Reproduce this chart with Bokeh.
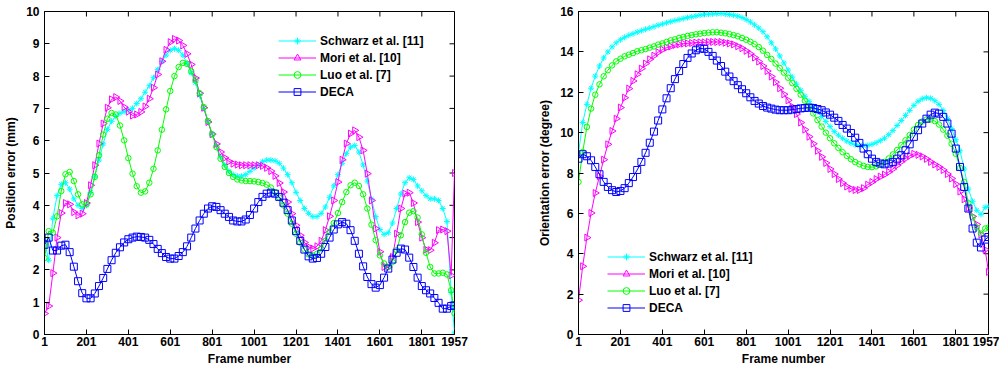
import math
from bokeh.plotting import figure
from bokeh.layouts import row
from bokeh.models import FixedTicker, Range1d, Legend, LegendItem
from bokeh.embed import file_html
from bokeh.resources import INLINE

# sampled frame numbers (one marker every 20 frames, last frame 1957)
frames = list(range(1, 1942, 20)) + [1957]
x_ticks = [1, 201, 401, 601, 801, 1001, 1201, 1401, 1601, 1801, 1957]
pos_ticks = [0, 1, 2, 3, 4, 5, 6, 7, 8, 9, 10]
ori_ticks = [0, 2, 4, 6, 8, 10, 12, 14, 16]
labels = ["Schwarz et al. [11]", "Mori et al. [10]", "Luo et al. [7]", "DECA"]

# ---------------- Position error (mm) ----------------
pos_schwarz = [
    2.9, 2.3, 3.6, 4.3, 4.65, 4.7, 4.5, 4.2, 4.0, 3.9,
    4.0, 4.4, 4.9, 5.4, 5.9, 6.35, 6.6, 6.75, 6.85, 6.9,
    6.95, 7.0, 7.15, 7.3, 7.5, 7.7, 7.95, 8.2, 8.45, 8.65,
    8.8, 8.85, 8.8, 8.65, 8.4, 8.1, 7.8, 7.4, 7.0, 6.58,
    6.2, 5.85, 5.5, 5.25, 5.05, 4.95, 4.9, 4.9, 4.95, 5.05,
    5.15, 5.25, 5.35, 5.4, 5.4, 5.38, 5.3, 5.15, 4.95, 4.7,
    4.4, 4.15, 3.9, 3.75, 3.65, 3.65, 3.75, 3.95, 4.25, 4.6,
    4.95, 5.3, 5.6, 5.8, 5.85, 5.65, 5.25, 4.75, 4.2, 3.65,
    3.25, 3.1, 3.15, 3.45, 3.9, 4.35, 4.7, 4.85, 4.8, 4.6,
    4.45, 4.3, 4.2, 4.2, 4.15, 3.9, 3.5, 1.3, 0.05]
pos_mori = [
    0.65, 0.88, 1.9, 3.0, 3.76, 4.07, 4.03, 3.79, 3.69, 3.74,
    4.07, 4.62, 5.24, 5.91, 6.53, 7.02, 7.28, 7.35, 7.23, 7.04,
    6.9, 6.78, 6.81, 6.89, 7.06, 7.3, 7.64, 8.05, 8.46, 8.81,
    9.05, 9.15, 9.1, 8.95, 8.69, 8.36, 7.94, 7.47, 7.02, 6.58,
    6.2, 5.9, 5.65, 5.47, 5.36, 5.29, 5.26, 5.24, 5.24, 5.24,
    5.24, 5.24, 5.22, 5.16, 5.06, 4.91, 4.69, 4.41, 4.1, 3.74,
    3.38, 3.07, 2.85, 2.71, 2.66, 2.73, 2.9, 3.23, 3.66, 4.15,
    4.72, 5.41, 5.91, 6.22, 6.32, 6.11, 5.7, 4.98, 4.15, 3.28,
    2.56, 2.09, 2.09, 2.4, 3.12, 3.9, 4.36, 4.39, 4.07, 3.48,
    3.0, 2.63, 2.61, 2.84, 3.23, 3.25, 3.2, 1.83, 5.0]
pos_luo = [
    2.37, 3.2, 3.15, 3.66, 4.44, 4.96, 5.03, 4.75, 4.34, 4.03,
    4.03, 4.34, 4.88, 5.55, 6.19, 6.68, 6.86, 6.81, 6.47, 6.01,
    5.46, 4.98, 4.59, 4.39, 4.43, 4.7, 5.13, 5.7, 6.34, 6.97,
    7.54, 8.0, 8.28, 8.41, 8.38, 8.15, 7.87, 7.47, 7.04, 6.61,
    6.2, 5.8, 5.44, 5.19, 5.0, 4.88, 4.8, 4.77, 4.75, 4.75,
    4.74, 4.72, 4.69, 4.64, 4.55, 4.41, 4.24, 4.0, 3.74, 3.43,
    3.12, 2.84, 2.63, 2.48, 2.45, 2.5, 2.66, 2.9, 3.18, 3.45,
    3.76, 4.1, 4.41, 4.62, 4.7, 4.6, 4.34, 3.9, 3.4, 2.92,
    2.45, 2.2, 2.09, 2.25, 2.61, 3.07, 3.48, 3.77, 3.82, 3.62,
    3.1, 2.53, 2.09, 1.89, 1.89, 1.91, 1.86, 1.37, 0.65]
pos_deca = [
    2.78, 3.0, 2.6, 2.6, 2.75, 2.78, 2.55, 2.1, 1.65, 1.28,
    1.12, 1.12, 1.27, 1.5, 1.75, 2.03, 2.3, 2.53, 2.7, 2.85,
    2.95, 3.0, 3.03, 3.02, 3.0, 2.93, 2.8, 2.65, 2.52, 2.4,
    2.35, 2.35, 2.43, 2.55, 2.73, 3.0, 3.28, 3.53, 3.74, 3.9,
    3.97, 3.95, 3.85, 3.74, 3.64, 3.53, 3.5, 3.5, 3.56, 3.7,
    3.9, 4.1, 4.26, 4.36, 4.39, 4.36, 4.26, 4.08, 3.85, 3.53,
    3.2, 2.9, 2.63, 2.42, 2.35, 2.37, 2.5, 2.71, 3.0, 3.25,
    3.41, 3.48, 3.43, 3.23, 2.9, 2.5, 2.11, 1.78, 1.56, 1.45,
    1.53, 1.76, 2.04, 2.32, 2.53, 2.66, 2.63, 2.38, 2.09, 1.76,
    1.5, 1.37, 1.27, 1.13, 0.98, 0.8, 0.8, 0.88, 0.9]

# ---------------- Orientation error (degree) ----------------
ori_schwarz = [
    9.0, 10.5, 11.4, 12.2, 12.8, 13.3, 13.7, 14.0, 14.25, 14.45,
    14.6, 14.72, 14.82, 14.9, 14.98, 15.05, 15.12, 15.18, 15.25, 15.32,
    15.38, 15.44, 15.5, 15.55, 15.6, 15.65, 15.7, 15.74, 15.78, 15.82,
    15.85, 15.87, 15.88, 15.89, 15.9, 15.88, 15.85, 15.82, 15.77, 15.7,
    15.6, 15.48, 15.34, 15.18, 15.0, 14.75, 14.45, 14.15, 13.8, 13.45,
    13.1, 12.75, 12.4, 12.1, 11.8, 11.55, 11.3, 11.05, 10.8, 10.55,
    10.3, 10.05, 9.87, 9.72, 9.58, 9.48, 9.4, 9.35, 9.35, 9.37,
    9.42, 9.5, 9.6, 9.72, 9.9, 10.1, 10.35, 10.6, 10.85, 11.1,
    11.35, 11.55, 11.68, 11.73, 11.7, 11.58, 11.4, 11.1, 10.7, 10.2,
    9.65, 9.1, 8.2, 7.2, 6.6, 6.15, 5.95, 6.3, 6.35]
ori_mori = [
    1.7, 3.38, 4.8, 6.02, 7.01, 7.84, 8.66, 9.42, 10.08, 10.69,
    11.24, 11.73, 12.18, 12.56, 12.89, 13.17, 13.42, 13.63, 13.81, 13.98,
    14.11, 14.21, 14.27, 14.34, 14.37, 14.41, 14.42, 14.44, 14.46, 14.47,
    14.47, 14.49, 14.49, 14.49, 14.49, 14.45, 14.42, 14.37, 14.28, 14.18,
    14.05, 13.9, 13.72, 13.52, 13.3, 13.05, 12.78, 12.5, 12.2, 11.9,
    11.6, 11.28, 10.92, 10.5, 10.15, 9.8, 9.45, 9.1, 8.8, 8.5,
    8.2, 7.95, 7.7, 7.5, 7.33, 7.22, 7.16, 7.16, 7.25, 7.42,
    7.55, 7.7, 7.82, 7.92, 8.05, 8.2, 8.38, 8.56, 8.72, 8.85,
    8.95, 8.9, 8.82, 8.7, 8.55, 8.42, 8.3, 8.15, 7.95, 7.73,
    7.45, 7.08, 6.7, 6.27, 5.85, 5.45, 4.95, 4.2, 3.1]
ori_luo = [
    7.56, 9.04, 10.28, 11.19, 11.88, 12.39, 12.79, 13.09, 13.33, 13.53,
    13.66, 13.78, 13.86, 13.94, 14.03, 14.08, 14.14, 14.21, 14.27, 14.36,
    14.42, 14.49, 14.57, 14.62, 14.69, 14.74, 14.79, 14.83, 14.87, 14.9,
    14.93, 14.95, 14.97, 14.97, 14.95, 14.92, 14.88, 14.83, 14.77, 14.69,
    14.6, 14.5, 14.38, 14.24, 14.06, 13.85, 13.65, 13.42, 13.2, 12.97,
    12.72, 12.45, 12.17, 11.88, 11.58, 11.28, 10.95, 10.62, 10.3, 10.0,
    9.72, 9.47, 9.24, 9.03, 8.85, 8.68, 8.54, 8.43, 8.35, 8.3,
    8.29, 8.33, 8.42, 8.55, 8.72, 8.92, 9.14, 9.38, 9.62, 9.88,
    10.15, 10.38, 10.55, 10.65, 10.65, 10.57, 10.4, 10.15, 9.85, 9.45,
    8.95, 8.25, 7.55, 6.5, 5.8, 5.3, 5.0, 5.25, 5.3]
ori_deca = [
    8.71, 8.93, 8.83, 8.63, 8.3, 7.94, 7.56, 7.31, 7.15, 7.06,
    7.11, 7.25, 7.5, 7.8, 8.15, 8.55, 9.0, 9.5, 10.05, 10.6,
    11.15, 11.7, 12.2, 12.65, 13.05, 13.4, 13.7, 13.92, 14.08, 14.17,
    14.15, 14.0, 13.8, 13.57, 13.3, 13.02, 12.78, 12.55, 12.35, 12.15,
    11.95, 11.75, 11.57, 11.44, 11.32, 11.24, 11.19, 11.14, 11.11, 11.11,
    11.11, 11.14, 11.17, 11.2, 11.22, 11.24, 11.22, 11.17, 11.11, 11.0,
    10.89, 10.74, 10.58, 10.38, 10.2, 9.98, 9.75, 9.49, 9.21, 8.93,
    8.71, 8.55, 8.47, 8.43, 8.47, 8.55, 8.71, 8.88, 9.13, 9.42,
    9.79, 10.12, 10.45, 10.69, 10.89, 10.99, 10.94, 10.78, 10.45, 9.95,
    9.21, 8.3, 7.31, 6.24, 5.25, 4.55, 4.31, 4.7, 4.83]

colors = ["#00FFFF", "#FF00FF", "#00FF00", "#0000FF"]
FONT = "Liberation Sans"
FRAME_W, FRAME_H, TICK = 410, 323, 5
X0, X1 = 1, 1957


def style_axis(ax, ticks):
    ax.ticker = FixedTicker(ticks=ticks)
    ax.major_tick_in = TICK
    ax.major_tick_out = 0
    ax.minor_tick_line_color = None
    ax.axis_line_color = "black"
    ax.major_tick_line_color = "black"
    ax.major_label_text_font = FONT
    ax.major_label_text_font_style = "bold"
    ax.major_label_text_font_size = "12px"
    ax.major_label_text_color = "black"
    ax.axis_label_text_font = FONT
    ax.axis_label_text_font_style = "bold"
    ax.axis_label_text_font_size = "12px"
    ax.axis_label_text_color = "black"


def make_plot(series, yticks, ymax, ylabel, border_left, border_right, legend_loc):
    p = figure(output_backend="svg", toolbar_location=None,
               x_range=Range1d(X0, X1), y_range=Range1d(0, ymax),
               frame_width=FRAME_W, frame_height=FRAME_H,
               min_border_left=border_left, min_border_right=border_right,
               min_border_top=11, min_border_bottom=36)
    p.grid.visible = False
    p.background_fill_color = "white"
    p.border_fill_color = "white"
    p.outline_line_color = "black"

    style_axis(p.xaxis[0], x_ticks)
    p.xaxis[0].major_label_standoff = 2
    p.xaxis[0].axis_label = "Frame number"
    p.xaxis[0].axis_label_standoff = 3
    style_axis(p.yaxis[0], yticks)
    p.yaxis[0].major_label_standoff = 5
    p.yaxis[0].axis_label = ylabel
    p.yaxis[0].axis_label_standoff = 5

    # inward box ticks on the top and right edges (MATLAB style box)
    dy = TICK * ymax / FRAME_H
    dx = TICK * (X1 - X0) / FRAME_W
    p.segment(x0=x_ticks, y0=[ymax] * len(x_ticks), x1=x_ticks,
              y1=[ymax - dy] * len(x_ticks), line_color="black", line_width=1)
    p.segment(x0=[X1] * len(yticks), y0=yticks, x1=[X1 - dx] * len(yticks),
              y1=yticks, line_color="black", line_width=1)

    markers = [("asterisk", 6, 0.0), ("triangle", 7, -math.pi / 2),
               ("circle", 5.5, 0.0), ("square", 7, 0.0)]
    items = []
    for ys, col, (mk, sz, ang), lab in zip(series, colors, markers, labels):
        lr = p.line(frames, ys, line_color=col, line_width=1)
        sr = p.scatter(frames, ys, marker=mk, size=sz, angle=ang,
                       line_color=col, line_width=1, fill_color=None)
        items.append(LegendItem(label=lab, renderers=[lr, sr]))

    leg = Legend(items=items, location=legend_loc,
                 glyph_width=38, glyph_height=17, label_height=17,
                 label_standoff=4, spacing=0, padding=0, margin=0,
                 label_text_font=FONT, label_text_font_style="bold",
                 label_text_font_size="12px", label_text_color="black",
                 border_line_alpha=0, background_fill_alpha=0)
    p.add_layout(leg)
    return p


p1 = make_plot([pos_schwarz, pos_mori, pos_luo, pos_deca], pos_ticks, 10,
               "Position error (mm)", 44, 46, (234, 234))
p2 = make_plot([ori_schwarz, ori_mori, ori_luo, ori_deca], ori_ticks, 16,
               "Orientation error (degree)", 78, 11, (29, 18))

layout = row(p1, p2)
open("out.html", "w").write(file_html(layout, INLINE))
